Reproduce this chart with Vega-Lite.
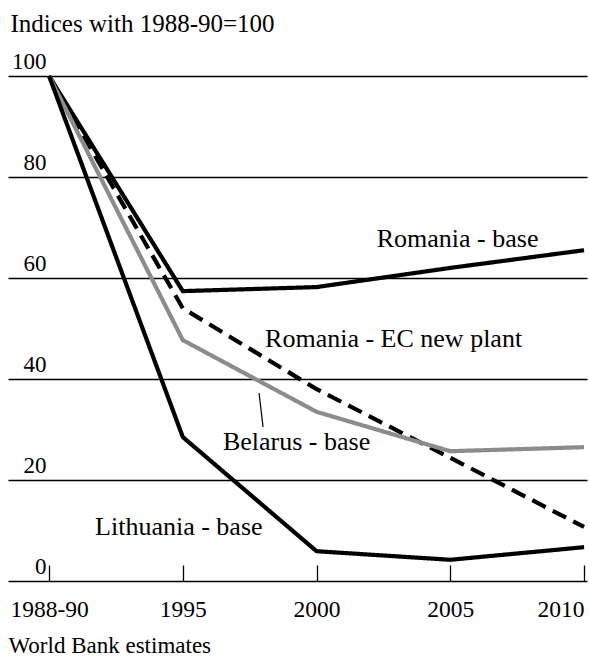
{
  "$schema": "https://vega.github.io/schema/vega-lite/v6.json",
  "autosize": "none",
  "width": 579,
  "height": 505,
  "padding": {"left": 8, "top": 76, "right": 2, "bottom": 80},
  "background": "white",
  "config": {"view": {"stroke": null}, "font": "Liberation Serif"},
  "datasets": {
    "series": [
      {"series": "Romania - base", "period": 0, "index": 100},
      {"series": "Romania - base", "period": 1, "index": 57.4},
      {"series": "Romania - base", "period": 2, "index": 58.2},
      {"series": "Romania - base", "period": 3, "index": 62},
      {"series": "Romania - base", "period": 4, "index": 65.5},
      {"series": "Romania - EC new plant", "period": 0, "index": 100},
      {"series": "Romania - EC new plant", "period": 1, "index": 54},
      {"series": "Romania - EC new plant", "period": 2, "index": 38},
      {"series": "Romania - EC new plant", "period": 3, "index": 24.4},
      {"series": "Romania - EC new plant", "period": 4, "index": 10.7},
      {"series": "Belarus - base", "period": 0, "index": 100},
      {"series": "Belarus - base", "period": 1, "index": 47.7},
      {"series": "Belarus - base", "period": 2, "index": 33.5},
      {"series": "Belarus - base", "period": 3, "index": 25.7},
      {"series": "Belarus - base", "period": 4, "index": 26.5},
      {"series": "Lithuania - base", "period": 0, "index": 100},
      {"series": "Lithuania - base", "period": 1, "index": 28.5},
      {"series": "Lithuania - base", "period": 2, "index": 5.9},
      {"series": "Lithuania - base", "period": 3, "index": 4.2},
      {"series": "Lithuania - base", "period": 4, "index": 6.7}
    ],
    "labels": [
      {"label": "Romania - base", "period": 2.45, "index": 66.1},
      {"label": "Romania - EC new plant", "period": 1.615, "index": 46.3},
      {"label": "Belarus - base", "period": 1.3, "index": 25.9},
      {"label": "Lithuania - base", "period": 0.344, "index": 9.1}
    ],
    "leader": [
      {"period": 1.57, "index": 37.2, "period2": 1.6, "index2": 30.5}
    ]
  },
  "layer": [
    {
      "data": {"name": "series"},
      "mark": {"type": "line", "strokeJoin": "miter"},
      "encoding": {
        "x": {
          "field": "period", "type": "quantitative",
          "scale": {"domain": [-0.307, 4.022], "nice": false, "zero": false},
          "axis": {
            "values": [0, 1, 2, 3, 4],
            "labelExpr": "['1988-90','1995','2000','2005','2010'][datum.value]",
            "domain": false, "grid": false,
            "ticks": true, "tickSize": -16, "tickColor": "black", "tickWidth": 1.3,
            "labelPadding": 51, "labelBaseline": "alphabetic",
            "labelAlign": {"condition": {"test": "datum.value == 4", "value": "right"}, "value": "center"},
            "labelFont": "Liberation Serif", "labelFontSize": 23.5, "labelColor": "black",
            "title": "World Bank estimates",
            "titleX": 0, "titleY": 71, "titleAlign": "left", "titleAnchor": "start",
            "titleBaseline": "alphabetic", "titleFont": "Liberation Serif",
            "titleFontSize": 23, "titleFontWeight": "normal", "titleColor": "black"
          }
        },
        "y": {
          "field": "index", "type": "quantitative",
          "scale": {"domain": [0, 100], "nice": false},
          "axis": {
            "values": [0, 20, 40, 60, 80, 100],
            "domain": false, "ticks": false, "tickSize": 0,
            "grid": true, "gridColor": "black", "gridWidth": 1.5, "gridOpacity": 1,
            "labelAlign": "right", "labelPadding": -38, "labelBaseline": "alphabetic",
            "labelOffset": -8,
            "labelFont": "Liberation Serif", "labelFontSize": 23, "labelColor": "black",
            "title": "Indices with 1988-90=100",
            "titleAngle": 0, "titleX": 2, "titleY": -45, "titleAlign": "left",
            "titleBaseline": "alphabetic", "titleFont": "Liberation Serif",
            "titleFontSize": 25, "titleFontWeight": "normal", "titleColor": "black"
          }
        },
        "detail": {"field": "series"},
        "color": {
          "field": "series", "type": "nominal", "legend": null,
          "scale": {
            "domain": ["Romania - base", "Romania - EC new plant", "Belarus - base", "Lithuania - base"],
            "range": ["black", "black", "#8c8c8c", "black"]
          }
        },
        "strokeDash": {
          "field": "series", "type": "nominal", "legend": null,
          "scale": {
            "domain": ["Romania - base", "Romania - EC new plant", "Belarus - base", "Lithuania - base"],
            "range": [[1, 0], [15, 8], [1, 0], [1, 0]]
          }
        },
        "strokeWidth": {
          "field": "series", "type": "nominal", "legend": null,
          "scale": {
            "domain": ["Romania - base", "Romania - EC new plant", "Belarus - base", "Lithuania - base"],
            "range": [4.2, 4.2, 3, 3.6]
          }
        }
      }
    },
    {
      "data": {"name": "labels"},
      "mark": {"type": "text", "align": "left", "baseline": "alphabetic", "font": "Liberation Serif", "fontSize": 26, "color": "black"},
      "encoding": {
        "x": {"field": "period", "type": "quantitative"},
        "y": {"field": "index", "type": "quantitative"},
        "text": {"field": "label"}
      }
    },
    {
      "data": {"name": "leader"},
      "mark": {"type": "rule", "color": "black", "strokeWidth": 1.2},
      "encoding": {
        "x": {"field": "period", "type": "quantitative"},
        "y": {"field": "index", "type": "quantitative"},
        "x2": {"field": "period2"},
        "y2": {"field": "index2"}
      }
    }
  ]
}
